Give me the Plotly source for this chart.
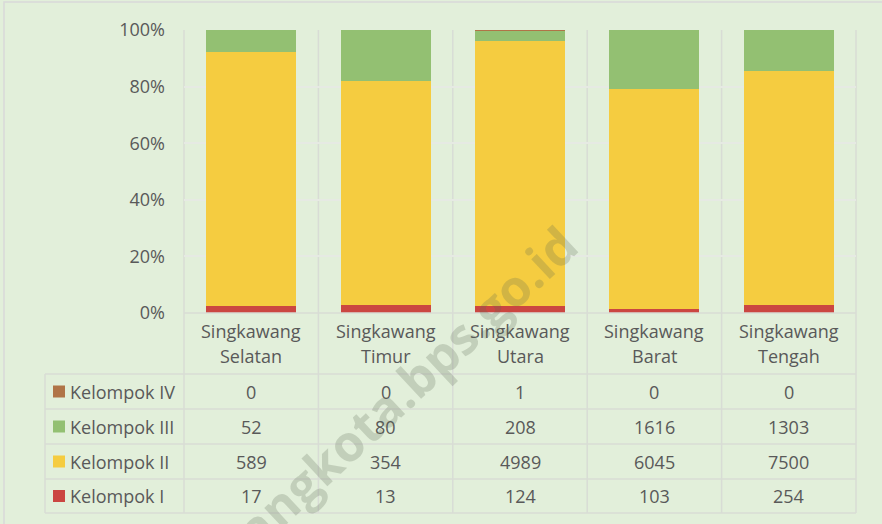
import plotly.graph_objects as go

# data
wilayah = ['Singkawang Selatan', 'Singkawang Timur', 'Singkawang Utara',
           'Singkawang Barat', 'Singkawang Tengah']
kelompok_1 = [17, 13, 124, 103, 254]
kelompok_2 = [589, 354, 4989, 6045, 7500]
kelompok_3 = [52, 80, 208, 1616, 1303]
kelompok_4 = [0, 0, 1, 0, 0]
pct_ticks = [0, 20, 40, 60, 80, 100]

series = [('Kelompok I', kelompok_1, '#CB4641'),
          ('Kelompok II', kelompok_2, '#F5CC40'),
          ('Kelompok III', kelompok_3, '#93C072'),
          ('Kelompok IV', kelompok_4, '#B07447')]

W, H = 882, 524
L, R, T, B = 184, 856, 30, 313
txt = '#595959'
gridc = '#E6EAE3'
linec = '#D8DCD5'
font = 'Open Sans'
fs = 18


def px(x):
    return (x - L) / (R - L)


def py(y):
    return (B - y) / (B - T)


fig = go.Figure()
for name, vals, col in series:
    fig.add_trace(go.Bar(x=list(range(len(wilayah))), y=vals, name=name,
                         marker=dict(color=col, line=dict(width=0)),
                         width=0.67, showlegend=False))

fig.update_layout(
    width=W, height=H,
    barmode='stack', barnorm='percent',
    paper_bgcolor='#E2EFDA', plot_bgcolor='#E2EFDA',
    margin=dict(l=L, r=W - R, t=T, b=H - B),
    font=dict(family=font, size=fs, color=txt),
    xaxis=dict(range=[-0.5, len(wilayah) - 0.5], showticklabels=False,
               showgrid=False, zeroline=False, fixedrange=True),
    yaxis=dict(range=[0, 100], tickvals=pct_ticks,
               ticktext=[f'{t}%' for t in pct_ticks],
               gridcolor=gridc, gridwidth=1.5,
               zeroline=False, ticklabelstandoff=18,
               tickfont=dict(size=fs, color=txt)),
)

shapes = []
# outer frame
shapes.append(dict(type='rect', xref='paper', yref='paper',
                   x0=px(4), x1=px(W + 10), y0=py(2), y1=py(H + 10),
                   line=dict(color='#D9D9D9', width=1.5), layer='below'))
# vertical lines between categories
n = len(wilayah)
for i in range(n + 1):
    xx = L + i * (R - L) / n
    shapes.append(dict(type='line', xref='paper', yref='paper',
                       x0=px(xx), x1=px(xx), y0=py(T), y1=py(513),
                       line=dict(color=linec, width=1.5), layer='below'))
# table horizontal lines
shapes.append(dict(type='line', xref='paper', yref='paper',
                   x0=0, x1=1, y0=0, y1=0, line=dict(color=linec, width=1.5)))
rows_y = [374, 409, 444, 479, 513]
for yy in rows_y:
    shapes.append(dict(type='line', xref='paper', yref='paper',
                       x0=px(45), x1=1, y0=py(yy), y1=py(yy),
                       line=dict(color=linec, width=1.5)))
shapes.append(dict(type='line', xref='paper', yref='paper',
                   x0=px(45), x1=px(45), y0=py(374), y1=py(513),
                   line=dict(color=linec, width=1.5)))

ann = []
# category labels (two lines)
for i, w in enumerate(wilayah):
    xx = L + (i + 0.5) * (R - L) / n
    a, b = w.split(' ')
    for s, yy in ((a, 331), (b, 356)):
        ann.append(dict(text=s, xref='paper', yref='paper', x=px(xx), y=py(yy),
                        showarrow=False, xanchor='center', yanchor='middle',
                        font=dict(size=fs, color=txt)))

# table rows, top to bottom: IV, III, II, I
for r, (name, vals, col) in enumerate(reversed(series)):
    yc = (rows_y[r] + rows_y[r + 1]) / 2
    shapes.append(dict(type='rect', xref='paper', yref='paper',
                       x0=px(53), x1=px(65), y0=py(yc - 6), y1=py(yc + 6),
                       fillcolor=col, line=dict(width=0)))
    ann.append(dict(text=name, xref='paper', yref='paper', x=px(68), y=py(yc),
                    showarrow=False, xanchor='left', yanchor='middle',
                    font=dict(size=fs, color=txt)))
    for i, v in enumerate(vals):
        xx = L + (i + 0.5) * (R - L) / n
        ann.append(dict(text=str(v), xref='paper', yref='paper', x=px(xx), y=py(yc),
                        showarrow=False, xanchor='center', yanchor='middle',
                        font=dict(size=fs, color=txt)))

# watermark
ann.append(dict(text='<b>singkawangkota.bps.go.id</b>', xref='paper', yref='paper',
                x=px(331), y=py(457), showarrow=False, textangle=-43,
                xanchor='center', yanchor='middle',
                font=dict(size=50, color='rgba(90,105,80,0.23)', family=font)))

fig.update_layout(shapes=shapes, annotations=ann)
fig.write_html("out.html", config={'displayModeBar': False},
               post_script="document.body.style.margin='0px';")
